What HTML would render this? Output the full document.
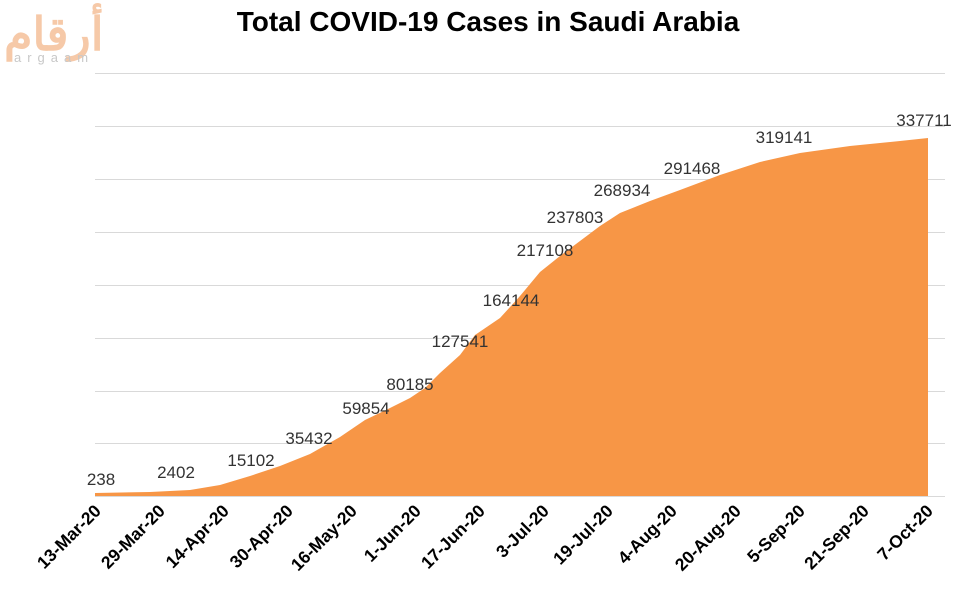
<!DOCTYPE html>
<html><head><meta charset="utf-8"><style>
body{margin:0;background:#fff;}
svg{display:block;font-family:"Liberation Sans",sans-serif;}
</style></head><body>
<svg width="971" height="599" viewBox="0 0 971 599">
<text x="4" y="50" font-family="'Liberation Sans','Noto Sans CJK SC',sans-serif" font-size="46" font-weight="bold" fill="#f6c9a8">أرقام</text>
<text x="14" y="62" font-size="13" letter-spacing="6" fill="#c8c8c8">argaam</text>
<text x="488" y="31" text-anchor="middle" font-size="28" font-weight="bold" fill="#000">Total COVID-19 Cases in Saudi Arabia</text>
<g stroke="#d9d9d9" stroke-width="1">
<line x1="95" x2="945" y1="73.5" y2="73.5"/><line x1="95" x2="945" y1="126.5" y2="126.5"/>
<line x1="95" x2="945" y1="179.5" y2="179.5"/><line x1="95" x2="945" y1="232.5" y2="232.5"/>
<line x1="95" x2="945" y1="285.5" y2="285.5"/><line x1="95" x2="945" y1="338.5" y2="338.5"/>
<line x1="95" x2="945" y1="391.5" y2="391.5"/><line x1="95" x2="945" y1="443.5" y2="443.5"/>
<line x1="95" x2="945" y1="496.5" y2="496.5"/>
</g>
<path fill="#f79646" d="M95,496 L95,493 L150,492 L190,490 L220,485 L250,476 L280,466 L310,454 L340,437 L365,420 L390,408 L410,398 L425,388 L440,373 L460,355 L475,335 L500,318 L520,296 L540,272 L560,256 L580,241 L600,226 L620,213 L650,201 L680,190 L720,175 L760,162 L800,153 L850,146 L900,141 L928,138 L928,496 Z"/>
<g font-size="17" fill="#333" text-anchor="middle">
<text x="101" y="485">238</text><text x="176" y="478">2402</text>
<text x="251" y="466">15102</text><text x="309" y="444">35432</text>
<text x="366" y="414">59854</text><text x="410" y="390">80185</text>
<text x="460" y="347">127541</text><text x="511" y="306">164144</text>
<text x="545" y="256">217108</text><text x="575" y="223">237803</text>
<text x="622" y="196">268934</text><text x="692" y="174">291468</text>
<text x="784" y="143">319141</text><text x="924" y="126">337711</text>
</g>
<g font-size="17.5" font-weight="bold" fill="#000" text-anchor="end">
<text transform="translate(102,512) rotate(-45)">13-Mar-20</text>
<text transform="translate(166,512) rotate(-45)">29-Mar-20</text>
<text transform="translate(230,512) rotate(-45)">14-Apr-20</text>
<text transform="translate(294,512) rotate(-45)">30-Apr-20</text>
<text transform="translate(358,512) rotate(-45)">16-May-20</text>
<text transform="translate(422,512) rotate(-45)">1-Jun-20</text>
<text transform="translate(486,512) rotate(-45)">17-Jun-20</text>
<text transform="translate(550,512) rotate(-45)">3-Jul-20</text>
<text transform="translate(614,512) rotate(-45)">19-Jul-20</text>
<text transform="translate(678,512) rotate(-45)">4-Aug-20</text>
<text transform="translate(742,512) rotate(-45)">20-Aug-20</text>
<text transform="translate(806,512) rotate(-45)">5-Sep-20</text>
<text transform="translate(870,512) rotate(-45)">21-Sep-20</text>
<text transform="translate(934,512) rotate(-45)">7-Oct-20</text>
</g>
</svg>
</body></html>
